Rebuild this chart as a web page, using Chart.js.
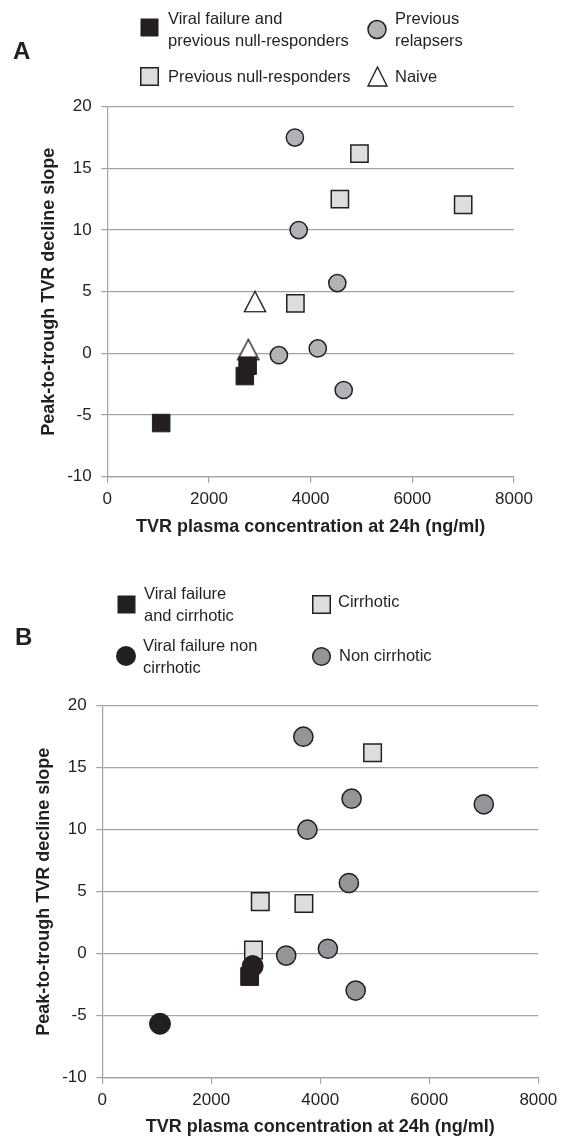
<!DOCTYPE html>
<html><head><meta charset="utf-8">
<script src="https://cdn.jsdelivr.net/npm/chart.js@4.4.1/dist/chart.umd.min.js"></script>
<style>
html,body{margin:0;padding:0;background:#fff;}
body{width:565px;height:1138px;position:relative;overflow:hidden;font-family:"Liberation Sans",Arial,sans-serif;color:#231f20;}
canvas{position:absolute;left:0;}
.t{position:absolute;font-size:16.5px;line-height:22px;white-space:nowrap;}
.p{position:absolute;font-weight:bold;font-size:24px;line-height:24px;}
svg{position:absolute;overflow:visible;}
</style></head><body>
<canvas id="cA" width="565" height="545" style="top:0px"></canvas>
<canvas id="cB" width="565" height="578" style="top:560px"></canvas>

<div class="p" style="left:13px;top:38.6px">A</div>
<svg style="left:140px;top:18px" width="19" height="19"><rect x="0.5" y="0.5" width="18" height="18" fill="#231f20"/></svg>
<div class="t" style="left:168px;top:6.8px">Viral failure and<br>previous null-responders</div>
<svg style="left:367px;top:20px" width="20" height="20"><circle cx="10" cy="9.5" r="9" fill="#b1b2b5" stroke="#231f20" stroke-width="1.5"/></svg>
<div class="t" style="left:395px;top:6.8px">Previous<br>relapsers</div>
<svg style="left:140px;top:67px" width="19" height="19"><rect x="0.75" y="0.75" width="17.5" height="17.5" fill="#dcddde" stroke="#231f20" stroke-width="1.5"/></svg>
<div class="t" style="left:168px;top:65px">Previous null-responders</div>
<svg style="left:367px;top:66px" width="21" height="21"><polygon points="10.5,1 1,20 20,20" fill="#fff" stroke="#231f20" stroke-width="1.4"/></svg>
<div class="t" style="left:395px;top:65px">Naive</div>

<div class="p" style="left:15px;top:625.2px">B</div>
<svg style="left:117px;top:595px" width="19" height="19"><rect x="0.5" y="0.5" width="18" height="18" fill="#231f20"/></svg>
<div class="t" style="left:144px;top:582px">Viral failure<br>and cirrhotic</div>
<svg style="left:312px;top:595px" width="19" height="19"><rect x="0.75" y="0.75" width="17.5" height="17.5" fill="#dcddde" stroke="#231f20" stroke-width="1.5"/></svg>
<div class="t" style="left:338px;top:590px">Cirrhotic</div>
<svg style="left:115.7px;top:646px" width="20" height="20"><circle cx="10" cy="10" r="10" fill="#231f20"/></svg>
<div class="t" style="left:143px;top:634.4px">Viral failure non<br>cirrhotic</div>
<svg style="left:312px;top:647px" width="19" height="19"><circle cx="9.5" cy="9.5" r="8.8" fill="#939598" stroke="#231f20" stroke-width="1.5"/></svg>
<div class="t" style="left:339px;top:644.4px">Non cirrhotic</div>

<script>
// ---- shared axis definitions ----
const xTickValues = [0, 2000, 4000, 6000, 8000];
const yTickValues = [-10, -5, 0, 5, 10, 15, 20];
const xTitle = 'TVR plasma concentration at 24h (ng/ml)';
const yTitle = 'Peak-to-trough TVR decline slope';

// ---- Panel A series ----
const aViralFailureNullX = [2705, 2760, 1060];
const aViralFailureNullY = [-1.84, -1.0, -5.65];
const aRelapsersX = [3690, 3765, 4525, 3375, 4140, 4650];
const aRelapsersY = [17.5, 10.0, 5.7, -0.15, 0.4, -2.97];
const aNullRespondersX = [4960, 4575, 7000, 3700];
const aNullRespondersY = [16.2, 12.5, 12.05, 4.05];
const aNaiveX = [2905, 2775];
const aNaiveY = [4.2, 0.3];

// ---- Panel B series ----
const bViralFailureCirrhoticX = [2705];
const bViralFailureCirrhoticY = [-1.84];
const bViralFailureNonCirrhoticX = [1060, 2760];
const bViralFailureNonCirrhoticY = [-5.65, -1.0];
const bCirrhoticX = [4960, 2900, 3700, 2775];
const bCirrhoticY = [16.2, 4.2, 4.05, 0.3];
const bNonCirrhoticX = [3690, 4575, 7000, 3765, 4525, 3375, 4140, 4650];
const bNonCirrhoticY = [17.5, 12.5, 12.05, 10.0, 5.7, -0.15, 0.4, -2.97];

const FF = '"Liberation Sans", Arial, sans-serif';
const INK = '#231f20';
const GRID = '#a3a3a3';

function pts(xs, ys) { return xs.map((x, i) => ({ x: x, y: ys[i] })); }

// centered triangle marker
function triangleMarker() {
  const c = document.createElement('canvas');
  c.width = 24; c.height = 23;
  const g = c.getContext('2d');
  g.beginPath();
  g.moveTo(12, 1.3); g.lineTo(1.4, 21.6); g.lineTo(22.6, 21.6); g.closePath();
  g.fillStyle = '#fff'; g.fill();
  g.lineWidth = 1.4; g.strokeStyle = INK; g.lineJoin = 'miter'; g.stroke();
  return c;
}

function makeScales(g) {
  return {
    x: {
      type: 'linear', min: 0, max: 8000,
      afterBuildTicks: s => { s.ticks = xTickValues.map(v => ({ value: v })); },
      afterFit: s => { s.height = g.xH; },
      grid: { display: true, drawOnChartArea: false, drawTicks: true, tickLength: 6, color: GRID, lineWidth: 1.2 },
      border: { display: true, color: GRID, width: 1.2 },
      ticks: { padding: g.xPad, color: INK, font: { family: FF, size: 17 }, callback: v => String(v), maxRotation: 0, autoSkip: false },
      title: { display: true, text: xTitle, color: INK, font: { family: FF, size: 18, weight: 'bold', lineHeight: 1.2 }, padding: { top: 0, bottom: g.xTitlePad } }
    },
    y: {
      type: 'linear', min: -10, max: 20,
      afterBuildTicks: s => { s.ticks = yTickValues.map(v => ({ value: v })); },
      afterFit: s => { s.width = g.yW; },
      grid: { display: true, drawOnChartArea: true, drawTicks: true, tickLength: 6, color: GRID, lineWidth: 1.2 },
      border: { display: true, color: GRID, width: 1.2 },
      ticks: { padding: g.yPad, color: INK, font: { family: FF, size: 17 }, callback: v => String(v), autoSkip: false },
      title: { display: true, text: yTitle, color: INK, font: { family: FF, size: 18, weight: 'bold', lineHeight: 1.2 }, padding: { top: 0, bottom: 0 } }
    }
  };
}

function makeChart(id, datasets, g) {
  return new Chart(document.getElementById(id), {
    type: 'scatter',
    data: { datasets: datasets },
    options: {
      responsive: false, animation: false, devicePixelRatio: 1, events: [],
      layout: { padding: g.pad },
      plugins: { legend: { display: false }, tooltip: { enabled: false } },
      scales: makeScales(g)
    }
  });
}

const tri = triangleMarker();

// Panel A (first dataset drawn on top)
makeChart('cA', [
  { label: 'Viral failure and previous null-responders', data: pts(aViralFailureNullX, aViralFailureNullY),
    pointStyle: 'rect', pointRadius: 12.4, backgroundColor: INK, borderColor: INK, borderWidth: 1 },
  { label: 'Naive', data: pts(aNaiveX, aNaiveY), pointStyle: tri, pointRadius: 12 },
  { label: 'Previous relapsers', data: pts(aRelapsersX, aRelapsersY),
    pointStyle: 'circle', pointRadius: 8.6, backgroundColor: '#b1b2b5', borderColor: INK, borderWidth: 1.5 },
  { label: 'Previous null-responders', data: pts(aNullRespondersX, aNullRespondersY),
    pointStyle: 'rect', pointRadius: 12.2, backgroundColor: '#dcddde', borderColor: INK, borderWidth: 1.5 }
], { pad: { left: 38.2, top: 106.7, right: 51, bottom: 0 }, yW: 69.1, xH: 68.3, xPad: 6.5, yPad: 9.6, xTitlePad: 7.5 });

// Panel B
makeChart('cB', [
  { label: 'Viral failure non cirrhotic', data: pts(bViralFailureNonCirrhoticX, bViralFailureNonCirrhoticY),
    pointStyle: 'circle', pointRadius: 10.5, backgroundColor: INK, borderColor: INK, borderWidth: 1 },
  { label: 'Viral failure and cirrhotic', data: pts(bViralFailureCirrhoticX, bViralFailureCirrhoticY),
    pointStyle: 'rect', pointRadius: 12.6, backgroundColor: INK, borderColor: INK, borderWidth: 1 },
  { label: 'Non cirrhotic', data: pts(bNonCirrhoticX, bNonCirrhoticY),
    pointStyle: 'circle', pointRadius: 9.6, backgroundColor: '#939598', borderColor: INK, borderWidth: 1.5 },
  { label: 'Cirrhotic', data: pts(bCirrhoticX, bCirrhoticY),
    pointStyle: 'rect', pointRadius: 12.4, backgroundColor: '#dcddde', borderColor: INK, borderWidth: 1.5 }
], { pad: { left: 33.2, top: 145.7, right: 26.7, bottom: 0 }, yW: 69, xH: 60.3, xPad: 6.1, yPad: 9.5, xTitlePad: 0.5 });
</script>
</body></html>
